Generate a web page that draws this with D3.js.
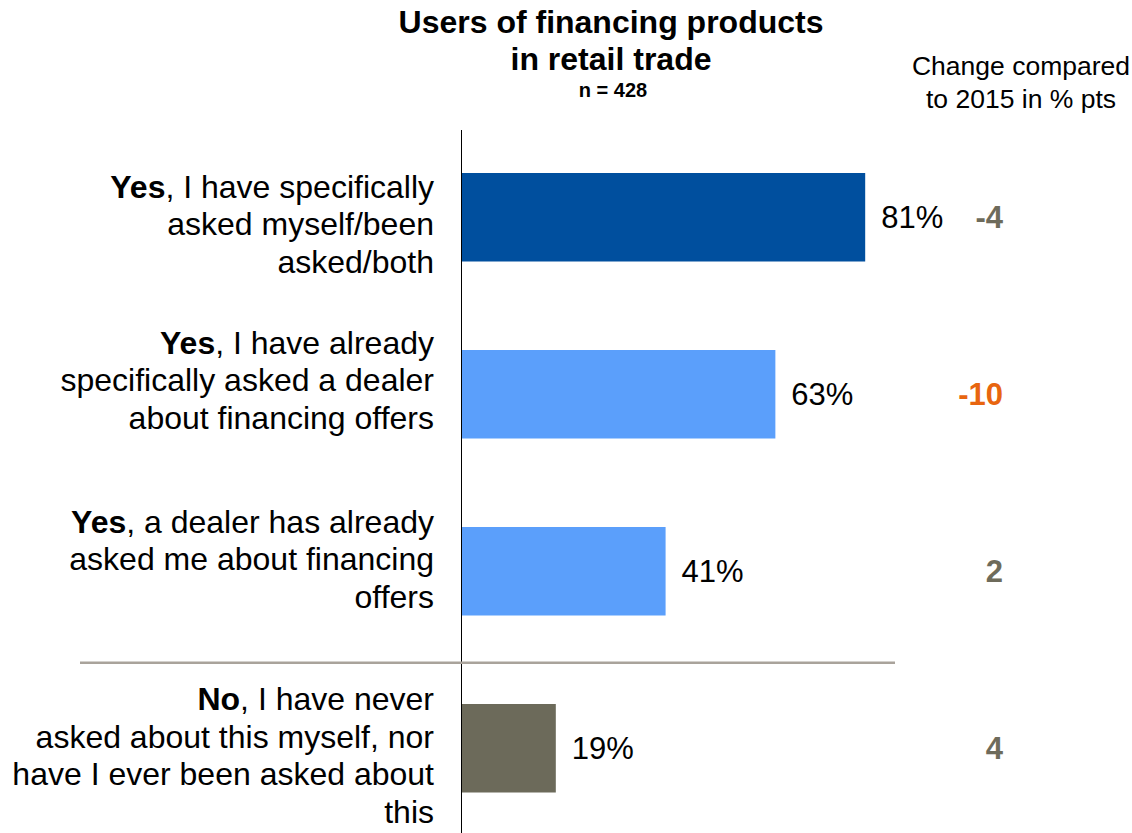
<!DOCTYPE html>
<html>
<head>
<meta charset="utf-8">
<script src="https://cdn.jsdelivr.net/npm/d3@7"></script>
<style>
  html, body { margin: 0; padding: 0; background: #ffffff; }
  svg { display: block; font-family: "Liberation Sans", Arial, sans-serif; }
</style>
</head>
<body>
<svg id="chart" width="1132" height="833"></svg>
<script>
// Survey answers: bold lead word + rest of label, split into display lines
const categories = ["specific", "askedDealer", "dealerAsked", "never"];
const labelLines = [
  [["Yes", ", I have specifically"], ["", "asked myself/been"], ["", "asked/both"]],
  [["Yes", ", I have already"], ["", "specifically asked a dealer"], ["", "about financing offers"]],
  [["Yes", ", a dealer has already"], ["", "asked me about financing"], ["", "offers"]],
  [["No", ", I have never"], ["", "asked about this myself, nor"], ["", "have I ever been asked about"], ["", "this"]]
];
const shares = [81, 63, 41, 19];          // % of respondents
const changes = [-4, -10, 2, 4];          // change vs. 2015 in % pts
const barColors = ["#004f9e", "#5b9ffb", "#5b9ffb", "#6c6a5a"];
const changeColors = ["#6e6b5b", "#e8650f", "#6e6b5b", "#6e6b5b"];

const titleLines = ["Users of financing products", "in retail trade"];
const subtitle = "n = 428";
const changeHeader = ["Change compared", "to 2015 in % pts"];

const svg = d3.select("#chart");

const x = d3.scaleLinear().domain([0, 100]).range([461, 960]);
const y = d3.scaleBand().domain(categories).range([128.75, 836.75])
  .paddingInner(0.5).paddingOuter(0.25);

// Title block
const titleX = 611;
svg.append("text").attr("x", titleX).attr("y", 33).attr("text-anchor", "middle")
  .attr("font-size", 32).attr("font-weight", "bold").attr("fill", "#000")
  .text(titleLines[0]);
svg.append("text").attr("x", titleX).attr("y", 70).attr("text-anchor", "middle")
  .attr("font-size", 32).attr("font-weight", "bold").attr("fill", "#000")
  .text(titleLines[1]);
svg.append("text").attr("x", 613).attr("y", 97).attr("text-anchor", "middle")
  .attr("font-size", 20).attr("font-weight", "bold").attr("fill", "#000")
  .text(subtitle);

// Header for the change column
changeHeader.forEach((t, i) => {
  svg.append("text").attr("x", 1021).attr("y", 75 + i * 33).attr("text-anchor", "middle")
    .attr("font-size", 26.5).attr("fill", "#000").text(t);
});

// Bars
svg.append("g").selectAll("rect").data(categories).join("rect")
  .attr("x", x(0))
  .attr("y", d => y(d))
  .attr("width", (d, i) => x(shares[i]) - x(0))
  .attr("height", y.bandwidth())
  .attr("fill", (d, i) => barColors[i]);

// Vertical axis line
svg.append("line").attr("x1", x(0)).attr("x2", x(0)).attr("y1", 130).attr("y2", 833)
  .attr("stroke", "#000").attr("stroke-width", 1).attr("shape-rendering", "crispEdges");

// Separator between "Yes" answers and the "No" answer
const sepY = (y(categories[2]) + y.bandwidth() + y(categories[3])) / 2 + 3;
svg.append("line").attr("x1", 80).attr("x2", 895).attr("y1", sepY).attr("y2", sepY)
  .attr("stroke", "#a9a39b").attr("stroke-width", 2.5);

// Value labels
svg.append("g").selectAll("text").data(categories).join("text")
  .attr("x", (d, i) => x(shares[i]) + 16)
  .attr("y", d => y(d) + y.bandwidth() / 2 + 11)
  .attr("font-size", 31).attr("fill", "#000")
  .text((d, i) => shares[i] + "%");

// Change column
svg.append("g").selectAll("text").data(categories).join("text")
  .attr("x", 1003)
  .attr("y", d => y(d) + y.bandwidth() / 2 + 11)
  .attr("text-anchor", "end")
  .attr("font-size", 31).attr("font-weight", "bold")
  .attr("fill", (d, i) => changeColors[i])
  .text((d, i) => changes[i]);

// Category labels, right-aligned left of the axis
const lineGap = 37.5;
const labelShift = [7, -14, -12, 7];
categories.forEach((c, i) => {
  const lines = labelLines[i];
  const mid = y(c) + y.bandwidth() / 2 + labelShift[i];
  const top = mid - (lines.length - 1) * lineGap / 2;
  lines.forEach((ln, j) => {
    const t = svg.append("text").attr("x", 434).attr("y", top + j * lineGap + 11)
      .attr("text-anchor", "end").attr("font-size", 32).attr("fill", "#000");
    if (ln[0]) t.append("tspan").attr("font-weight", "bold").text(ln[0]);
    t.append("tspan").text(ln[1]);
  });
});
</script>
</body>
</html>
